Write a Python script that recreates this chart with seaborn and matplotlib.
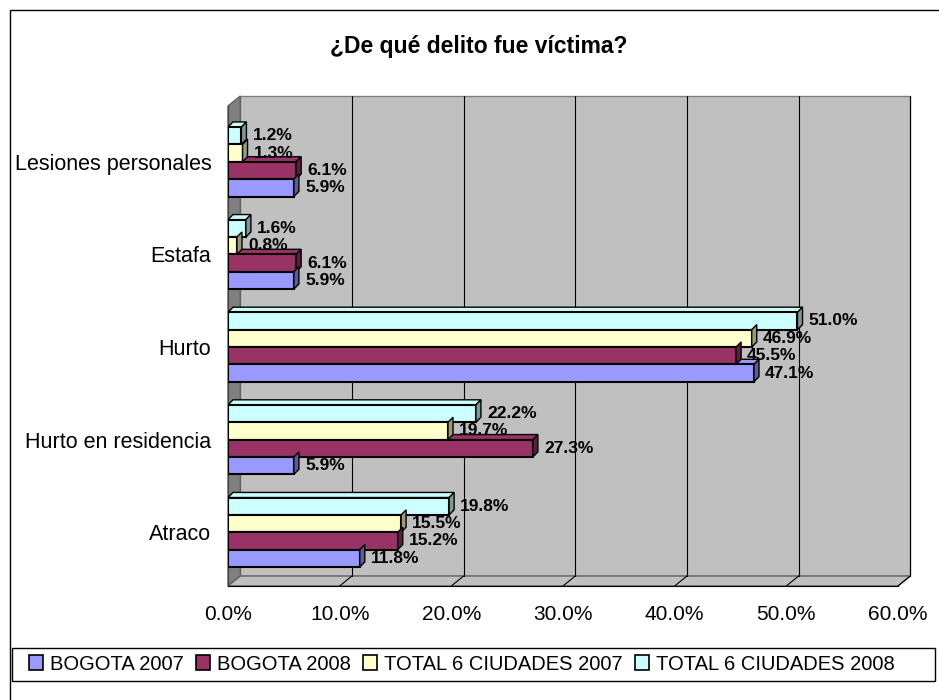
import pandas as pd
import matplotlib
matplotlib.use("Agg")
import matplotlib.pyplot as plt
import seaborn as sns
from matplotlib.patches import Polygon, Rectangle, Patch
from matplotlib.colors import to_rgb

# data (percent)
categories = ["Lesiones personales", "Estafa", "Hurto", "Hurto en residencia", "Atraco"]
series = ["BOGOTA 2007", "BOGOTA 2008", "TOTAL 6 CIUDADES 2007", "TOTAL 6 CIUDADES 2008"]
bogota_2007 = [5.9, 5.9, 47.1, 5.9, 11.8]
bogota_2008 = [6.1, 6.1, 45.5, 27.3, 15.2]
total_2007 = [1.3, 0.8, 46.9, 19.7, 15.5]
total_2008 = [1.2, 1.6, 51.0, 22.2, 19.8]
colors = ["#9999FF", "#993366", "#FFFFCC", "#CCFFFF"]
xticks = [0, 10, 20, 30, 40, 50, 60]

df = pd.DataFrame({
    "delito": categories,
    series[0]: bogota_2007,
    series[1]: bogota_2008,
    series[2]: total_2007,
    series[3]: total_2008,
}).melt(id_vars="delito", var_name="serie", value_name="valor")

sns.set_style("white")
plt.rcParams["font.family"] = ["Liberation Sans", "DejaVu Sans"]
plt.rcParams["text.color"] = "black"
plt.rcParams["xtick.color"] = "black"
plt.rcParams["ytick.color"] = "black"

fig = plt.figure(figsize=(9.39, 7), dpi=100)
ax = fig.add_axes([228 / 939, 1 - 586 / 700, 670 / 939, 490 / 700])
ax.set_facecolor("none")

palette = dict(zip(series, colors))
sns.barplot(data=df, x="valor", y="delito", hue="serie", hue_order=series[::-1],
            order=categories, palette=palette, saturation=1, orient="h", width=0.75,
            errorbar=None, edgecolor="black", linewidth=1.5, legend=False,
            zorder=3, ax=ax)

y_top, y_bot = -0.71, 4.58
dxw, dyw = 1.1, 0.108
ax.set_xlim(0, 60)
ax.set_ylim(y_bot, y_top)

# 3d-ish walls
wall_c = "#C0C0C0"
ax.add_patch(Polygon([(dxw, y_top), (60 + dxw, y_top), (60 + dxw, y_bot - dyw), (dxw, y_bot - dyw)],
                     closed=True, fc=wall_c, ec="#808080", lw=1, zorder=0, clip_on=False))
ax.add_patch(Polygon([(0, y_top + dyw), (dxw, y_top), (dxw, y_bot - dyw), (0, y_bot)],
                     closed=True, fc="#808080", ec="#606060", lw=1, zorder=0, clip_on=False))
ax.add_patch(Polygon([(0, y_bot), (dxw, y_bot - dyw), (60 + dxw, y_bot - dyw), (60, y_bot)],
                     closed=True, fc=wall_c, ec="#606060", lw=1, zorder=0, clip_on=False))
for t in xticks[1:]:
    ax.plot([t + dxw, t + dxw], [y_top, y_bot - dyw], color="black", lw=0.8, zorder=1, clip_on=False)
    ax.plot([t, t + dxw], [y_bot, y_bot - dyw], color="black", lw=0.8, zorder=1, clip_on=False)

# bar depth faces
dx, dy = 0.45, 0.055
for container in ax.containers:
    for p in container.patches:
        x, y, w, h = p.get_x(), p.get_y(), p.get_width(), p.get_height()
        c = to_rgb(p.get_facecolor())
        dark = tuple(v * 0.6 for v in c)
        ax.add_patch(Polygon([(x + w, y), (x + w + dx, y - dy), (x + w + dx, y + h - dy), (x + w, y + h)],
                             closed=True, fc=dark, ec="black", lw=1, zorder=3))
        ax.add_patch(Polygon([(x, y), (x + dx, y - dy), (x + w + dx, y - dy), (x + w, y)],
                             closed=True, fc=c, ec="black", lw=1, zorder=2.9))
    ax.bar_label(container, fmt="%.1f%%", padding=8, fontsize=12.5, fontweight="bold", zorder=5)

sns.despine(ax=ax, top=True, right=True)
ax.spines["left"].set_bounds(y_top + dyw, y_bot)
ax.spines["left"].set_color("#404040")
ax.spines["bottom"].set_color("black")
ax.set_xticks(xticks)
ax.set_xticklabels([f"{t:.1f}%" for t in xticks], fontsize=15)
ax.tick_params(axis="x", direction="out", length=6, width=1, color="black", pad=8)
ax.set_yticks(range(len(categories)))
ax.set_yticklabels(categories, fontsize=15.5)
ax.tick_params(axis="y", which="major", length=0, pad=12)
ax.set_yticks([y_top + dyw, 0.5, 1.5, 2.5, 3.5, y_bot], minor=True)
ax.tick_params(axis="y", which="minor", direction="out", length=9, width=1, color="black")
ax.set_xlabel("")
ax.set_ylabel("")

fig.text(479 / 939, 1 - 47 / 700, "¿De qué delito fue víctima?", ha="center", va="center",
         fontsize=16.5, fontweight="bold")

# outer chart frame and legend box
fig.add_artist(Rectangle((10 / 939, -0.05), 1.0, 1 - 10 / 700 + 0.05, transform=fig.transFigure,
                         fill=False, ec="black", lw=1))
fig.add_artist(Rectangle((12 / 939, 1 - 681 / 700), 923 / 939, 33 / 700, transform=fig.transFigure,
                         fill=False, ec="black", lw=1))
handles = [Patch(fc=c, ec="black", lw=1.2) for c in colors]
fig.legend(handles, series, loc="center", bbox_to_anchor=(462 / 939, 1 - 664 / 700), ncol=4,
           frameon=False, fontsize=14.5, handlelength=0.7, handleheight=0.7,
           handletextpad=0.35, columnspacing=0.6)

fig.savefig("out.png", dpi=100)
